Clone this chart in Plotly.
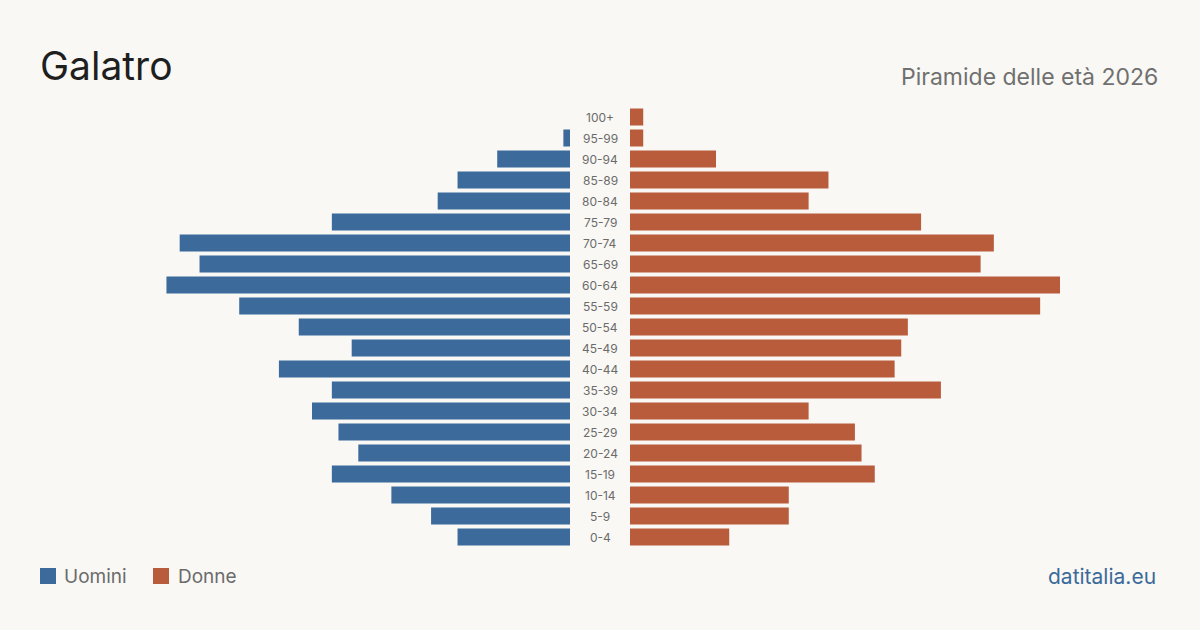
import plotly.graph_objects as go

age_groups = ["0-4", "5-9", "10-14", "15-19", "20-24", "25-29", "30-34", "35-39",
              "40-44", "45-49", "50-54", "55-59", "60-64", "65-69", "70-74", "75-79",
              "80-84", "85-89", "90-94", "95-99", "100+"]
uomini = [17, 21, 27, 36, 32, 35, 39, 36, 44, 33, 41, 50, 61, 56, 59, 36, 20, 17, 11, 1, 0]
donne = [15, 24, 24, 37, 35, 34, 27, 47, 40, 41, 42, 62, 65, 53, 55, 44, 27, 30, 13, 2, 2]

BLUE = "#3b6a9b"
ORANGE = "#b95c3c"
BG = "#f9f8f4"
FONT = "Inter"

xmax = max(max(uomini), max(donne))

fig = go.Figure()
fig.add_trace(go.Bar(y=age_groups, x=uomini, orientation="h", marker_color=BLUE,
                     marker_line_width=0,
                     xaxis="x", yaxis="y", name="Uomini", showlegend=False, hoverinfo="x+y"))
fig.add_trace(go.Bar(y=age_groups, x=donne, orientation="h", marker_color=ORANGE,
                     marker_line_width=0,
                     xaxis="x2", yaxis="y", name="Donne", showlegend=False, hoverinfo="x+y"))

W, H = 1200, 630
annotations = []
for g in age_groups:
    annotations.append(dict(x=0.5, xref="paper", y=g, yref="y", text=g, showarrow=False,
                            font=dict(family=FONT, size=12, color="#6b6b6b"),
                            xanchor="center", yanchor="middle"))

annotations += [
    dict(x=38 / W, y=1 - 66 / H, xref="paper", yref="paper", text="Galatro", showarrow=False,
         xanchor="left", yanchor="middle", font=dict(family=FONT, size=39, color="#1f1f1f")),
    dict(x=1160 / W, y=1 - 77 / H, xref="paper", yref="paper", text="Piramide delle età 2026",
         showarrow=False, xanchor="right", yanchor="middle",
         font=dict(family=FONT, size=23, color="#707070")),
    dict(x=1158 / W, y=1 - 576 / H, xref="paper", yref="paper", text="datitalia.eu",
         showarrow=False, xanchor="right", yanchor="middle",
         font=dict(family=FONT, size=21, color="#3b6a9b")),
    dict(x=62 / W, y=1 - 576 / H, xref="paper", yref="paper", text="Uomini",
         showarrow=False, xanchor="left", yanchor="middle",
         font=dict(family=FONT, size=19, color="#6b6b6b")),
    dict(x=176 / W, y=1 - 576 / H, xref="paper", yref="paper", text="Donne",
         showarrow=False, xanchor="left", yanchor="middle",
         font=dict(family=FONT, size=19, color="#6b6b6b")),
]

shapes = [
    dict(type="rect", xref="paper", yref="paper", x0=40 / W, x1=56 / W,
         y0=1 - 584 / H, y1=1 - 568 / H, fillcolor=BLUE, line_width=0),
    dict(type="rect", xref="paper", yref="paper", x0=153 / W, x1=169 / W,
         y0=1 - 584 / H, y1=1 - 568 / H, fillcolor=ORANGE, line_width=0),
]

top, bottom = 106.5, 547.5
fig.update_layout(
    width=W, height=H,
    paper_bgcolor=BG, plot_bgcolor=BG,
    margin=dict(l=0, r=0, t=0, b=0),
    bargap=4 / 21,
    xaxis=dict(domain=[140 / W, 570 / W], range=[xmax, 0], visible=False, fixedrange=True),
    xaxis2=dict(domain=[630 / W, 1060 / W], range=[0, xmax], visible=False, fixedrange=True),
    yaxis=dict(domain=[1 - bottom / H, 1 - top / H],
               categoryorder="array", categoryarray=age_groups, visible=False,
               range=[-0.5, len(age_groups) - 0.5], fixedrange=True),
    annotations=annotations,
    shapes=shapes,
    showlegend=False,
)

fig.write_html("out.html")
